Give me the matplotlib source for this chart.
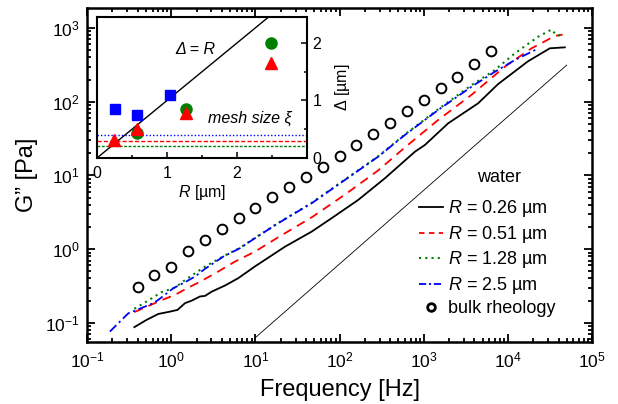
import matplotlib
matplotlib.use("Agg")
import matplotlib.pyplot as plt
from matplotlib.lines import Line2D
from matplotlib.ticker import (LogLocator, NullFormatter, MultipleLocator,
                               FixedLocator, LogFormatterSciNotation)

plt.rcParams["font.family"] = ["Liberation Sans", "DejaVu Sans"]
plt.rcParams["mathtext.fontset"] = "custom"
plt.rcParams["mathtext.rm"] = "Liberation Sans"
plt.rcParams["mathtext.it"] = "Liberation Sans:italic"
plt.rcParams["mathtext.bf"] = "Liberation Sans:bold"

# ---- main panel data ----------------------------------------------------- #
f_026 = [0.365, 0.512, 0.703, 0.968, 1.19, 1.46, 1.75, 2.20, 2.52, 3.03, 4.36,
         6.27, 7.89, 9.89, 22.5, 46.7, 80.5, 167, 346, 787, 1033, 1954, 4436,
         7674, 17420, 31550, 47530]
G_026 = [0.0875, 0.110, 0.132, 0.142, 0.150, 0.185, 0.200, 0.228, 0.232, 0.265,
         0.321, 0.404, 0.486, 0.583, 1.08, 1.73, 2.63, 4.66, 9.16, 21.0, 25.9,
         51.0, 95.3, 174, 355, 531, 547]

f_051 = [0.365, 0.612, 0.736, 1.11, 1.60, 2.30, 3.62, 5.73, 9.89, 18.7, 46.7,
         116, 288, 598, 1486, 3698, 9204, 19100, 27500, 33100, 38900, 44700]
G_051 = [0.140, 0.181, 0.199, 0.240, 0.301, 0.371, 0.497, 0.678, 0.927, 1.45,
         2.7, 5.5, 11.7, 24.0, 56.6, 124, 299, 531, 660, 741, 794, 813]

f_128 = [0.365, 0.511, 0.769, 1.11, 1.46, 1.92, 2.52, 4.16, 6.56, 9.89, 18.7,
         46.7, 116, 288, 598, 1486, 3698, 7000, 12100, 22900, 33000, 37800, 46000]
G_128 = [0.155, 0.195, 0.261, 0.301, 0.38, 0.47, 0.579, 0.80, 1.04, 1.42, 2.27,
         4.25, 8.8, 18.2, 36, 79, 168, 269, 454, 762, 955, 800, 790]

f_25 = [0.187, 0.310, 0.365, 0.612, 0.703, 1.06, 1.46, 1.92, 2.52, 4.16, 6.56,
        9.89, 18.7, 46.7, 116, 288, 598, 1486, 3698, 7000, 12100, 21900]
G_25 = [0.0762, 0.135, 0.145, 0.185, 0.205, 0.295, 0.356, 0.425, 0.540, 0.792,
        1.03, 1.41, 2.25, 4.20, 8.69, 18.0, 35.4, 77.3, 160, 255, 368, 514]

bulk_f = [0.398, 0.631, 1.0, 1.58, 2.51, 3.98, 6.31, 10, 15.8, 25.1, 39.8, 63.1,
          100, 158, 251, 398, 631, 1000, 1585, 2512, 3981, 6310]
bulk_G = [0.31, 0.44, 0.57, 0.95, 1.33, 1.86, 2.68, 3.59, 5.06, 6.92, 9.6, 13.2,
          18.4, 25.9, 36.5, 51, 75, 106, 152, 219, 322, 492]

water_f = [10, 50000]
water_G = [0.063, 314]

x_ticks = [0.1, 1, 10, 100, 1e3, 1e4, 1e5]
y_ticks = [0.1, 1, 10, 100, 1e3]

# ---- inset data: Delta vs R --------------------------------------------- #
R_sq = [0.26, 0.57, 1.04]
D_sq = [0.85, 0.75, 1.10]
R_ci = [0.57, 1.27, 2.49]
D_ci = [0.43, 0.85, 2.00]
R_tr = [0.24, 0.57, 1.27, 2.49]
D_tr = [0.31, 0.50, 0.78, 1.65]
line_R = [0, 3]
mesh_blue, mesh_red, mesh_green = 0.40, 0.29, 0.20

RED, GREEN, BLUE = "#ff0000", "#008000", "#0000ff"

fig = plt.figure(figsize=(6.18, 4.04), dpi=100)
ax = fig.add_axes([0.1408, 0.1535, 0.8172, 0.8267])

ax.plot(water_f, water_G, color="black", lw=0.6)
ax.plot(f_026, G_026, color="black", lw=1.3, ls="-")
ax.plot(f_051, G_051, color=RED, lw=1.3, ls=(0, (5, 3.5)))
ax.plot(f_128, G_128, color=GREEN, lw=1.5, ls=(0, (1, 2)))
ax.plot(f_25, G_25, color=BLUE, lw=1.3, ls=(0, (5, 2, 1.2, 2)))
ax.plot(bulk_f, bulk_G, ls="none", marker="o", ms=7, mfc="none",
        mec="black", mew=1.4)

ax.set_xscale("log")
ax.set_yscale("log")
ax.set_xlim(0.1, 1e5)
ax.set_ylim(0.055, 1870)
ax.xaxis.set_major_locator(FixedLocator(x_ticks))
ax.yaxis.set_major_locator(FixedLocator(y_ticks))
ax.xaxis.set_major_formatter(LogFormatterSciNotation())
ax.yaxis.set_major_formatter(LogFormatterSciNotation())
ax.xaxis.set_minor_locator(LogLocator(base=10, subs=range(2, 10), numticks=20))
ax.yaxis.set_minor_locator(LogLocator(base=10, subs=range(2, 10), numticks=20))
ax.xaxis.set_minor_formatter(NullFormatter())
ax.yaxis.set_minor_formatter(NullFormatter())
ax.tick_params(which="both", direction="in", top=True, right=True,
               labelsize=12.5, width=1.3)
ax.tick_params(which="major", length=6)
ax.tick_params(which="minor", length=3)
ax.tick_params(axis="x", pad=6)
ax.tick_params(axis="y", pad=5)
for s in ax.spines.values():
    s.set_linewidth(1.8)

ax.set_xlabel("Frequency [Hz]", fontsize=17, labelpad=6)
ax.set_ylabel("G\u201d [Pa]", fontsize=17, labelpad=5)

ax.text(0.815, 0.491, "water", transform=ax.transAxes, fontsize=13,
        ha="center", va="center")

handles = [
    Line2D([], [], color="black", lw=1.3),
    Line2D([], [], color=RED, lw=1.3, ls=(0, (3, 2.5))),
    Line2D([], [], color=GREEN, lw=1.5, ls=(0, (1, 2))),
    Line2D([], [], color=BLUE, lw=1.3, ls=(0, (4, 1.5, 1.2, 1.5))),
    Line2D([], [], ls="none", marker="o", ms=5.5, mfc="none", mec="black", mew=2),
]
labels = ["$R$ = 0.26 \u00b5m", "$R$ = 0.51 \u00b5m", "$R$ = 1.28 \u00b5m",
          "$R$ = 2.5 \u00b5m", "bulk rheology"]
ax.legend(handles, labels, loc="upper left", bbox_to_anchor=(0.657, 0.43),
          frameon=False, fontsize=13, borderpad=0, borderaxespad=0,
          handlelength=1.35, handletextpad=0.25, labelspacing=0.25)

# ---- inset ---------------------------------------------------------------- #
ins = fig.add_axes([0.157, 0.609, 0.340, 0.349])
ins.plot(line_R, line_R, color="black", lw=1.0)
ins.axhline(mesh_blue, color=BLUE, lw=1.0, ls=(0, (1, 1.5)))
ins.axhline(mesh_red, color=RED, lw=1.0, ls=(0, (3, 1.5)))
ins.axhline(mesh_green, color=GREEN, lw=1.0, ls=(0, (2, 1.2)))
ins.plot(R_sq, D_sq, ls="none", marker="s", ms=7.5, color=BLUE)
ins.plot(R_ci, D_ci, ls="none", marker="o", ms=8, color=GREEN)
ins.plot(R_tr, D_tr, ls="none", marker="^", ms=8.5, color=RED)
ins.set_xlim(0, 3)
ins.set_ylim(0, 2.45)
ins.xaxis.set_major_locator(FixedLocator([0, 1, 2]))
ins.xaxis.set_minor_locator(MultipleLocator(0.5))
ins.yaxis.set_major_locator(FixedLocator([0, 1, 2]))
ins.yaxis.set_minor_locator(MultipleLocator(0.5))
ins.yaxis.tick_right()
ins.yaxis.set_label_position("right")
ins.tick_params(which="both", direction="in", labelsize=11.5, width=1.1,
                left=False, right=True)
ins.tick_params(which="major", length=4.5)
ins.tick_params(which="minor", length=2.5)
ins.tick_params(axis="x", pad=6)
ins.tick_params(axis="y", pad=4)
for s in ins.spines.values():
    s.set_linewidth(1.5)
ins.set_xlabel("$R$ [\u00b5m]", fontsize=11.5, labelpad=1)
ins.set_ylabel("$\\mathit{\u0394}$ [\u00b5m]", fontsize=11.5, labelpad=8)
ins.text(1.4, 1.88, "\u0394 = R", fontsize=11.5, style="italic",
         ha="center", va="center")
ins.text(1.59, 0.68, "mesh size \u03be", fontsize=11.5, style="italic",
         ha="left", va="center")

fig.savefig("out.png", dpi=100)
